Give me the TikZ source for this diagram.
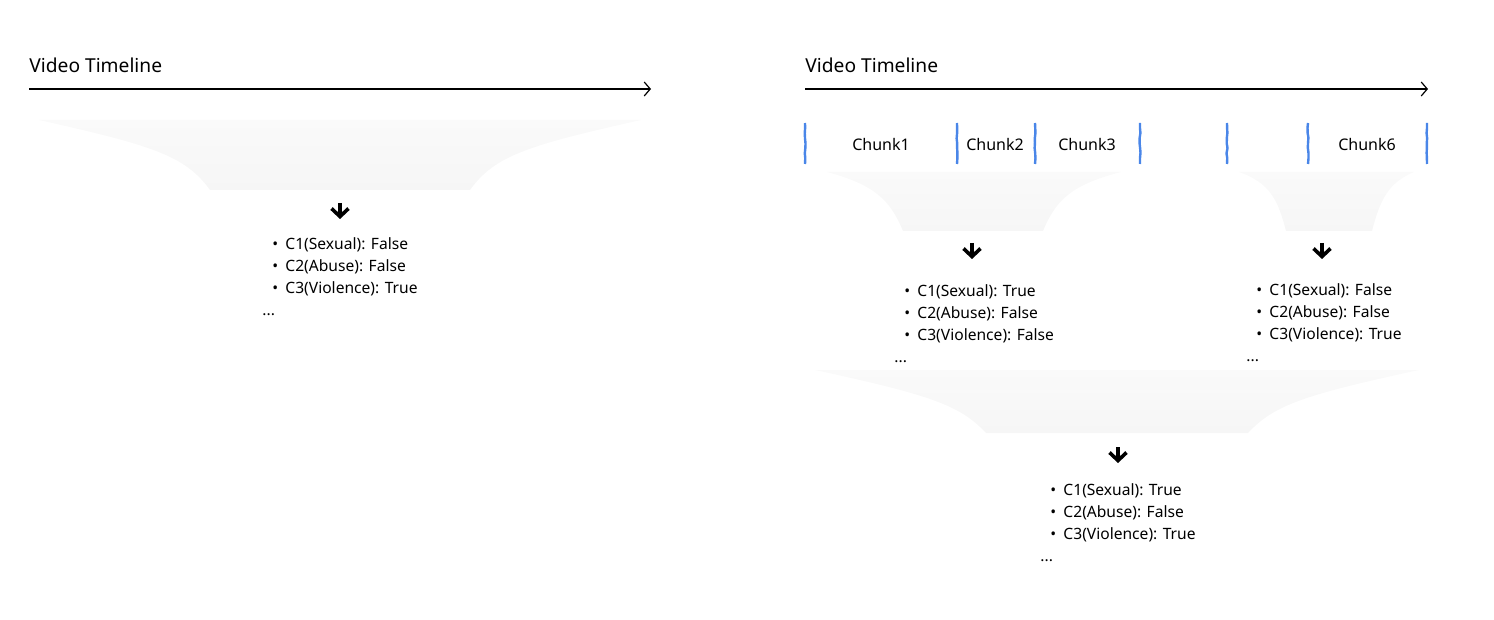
\documentclass[tikz,border=0pt]{standalone}
\usepackage{fontspec}
\setmainfont{Noto Sans}
\usetikzlibrary{arrows.meta,decorations.pathmorphing}
\definecolor{cutblue}{HTML}{4A86E8}
\tikzset{
  title/.style={anchor=west,inner sep=0pt,font=\fontsize{9.6}{11}\selectfont},   % timeline heading
  timeline/.style={-{Straight Barb[length=3pt,width=7pt]},line width=0.6pt},
  cut/.style={decorate,decoration={random steps,segment length=2.5pt,amplitude=0.25pt},cutblue,line width=1.2pt},% chunk border
  chunk/.style={inner sep=0pt,font=\fontsize{8}{10}\selectfont},
  funnel/.style={top color=gray!4,bottom color=gray!7,draw=none},
  down/.style={-{Straight Barb[length=4pt,width=8.5pt]},line width=1.8pt},
  items/.style={anchor=north west,align=left,inner sep=0pt,font=\fontsize{7.8}{11}\selectfont},
}
\newcommand{\pt}[1]{\hspace*{5pt}\textbullet\hspace{3.6pt}#1}

\begin{document}
\begin{tikzpicture}[x=0.5pt,y=-0.5pt]
  \useasboundingbox (0,0) rectangle (1494,620);
  \pgfmathsetseed{7}
  % whole video
  \node[title] (ltitle) at (29,65) {Video Timeline};
  \coordinate (lt0) at (29,89); \coordinate (lt1) at (651,89);
  \draw[timeline] (lt0) -- (lt1);
  \shade[funnel] (39,120) .. controls (150,145) and (185,155) .. (210,190) -- (470,190)
    .. controls (495,155) and (530,145) .. (641,120) -- cycle;
  \coordinate (la0) at (340,203); \coordinate (la1) at (340,219);
  \draw[down] (la0) -- (la1);
  \node[items] (lres) at (262,237.5) {\pt{C1(Sexual): False}\\ \pt{C2(Abuse): False}\\ \pt{C3(Violence): True}\\ ...};

  % chunked video
  \node[title] (rtitle) at (805,65) {Video Timeline};
  \coordinate (rt0) at (805,89); \coordinate (rt1) at (1428,89);
  \draw[timeline] (rt0) -- (rt1);
  \foreach \x in {805,957,1035,1140,1227,1308,1427}
    \draw[cut] (\x,123) -- (\x,164);
  \node[chunk] (c1) at (881,145) {Chunk1};
  \node[chunk] (c2) at (995,145) {Chunk2};
  \node[chunk] (c3) at (1087,145) {Chunk3};
  \node[chunk] (c6) at (1367,145) {Chunk6};
  \shade[funnel] (827,172) .. controls (875,185) and (890,200) .. (903,231) -- (1043,231)
    .. controls (1056,200) and (1071,185) .. (1121,172) -- cycle;
  \shade[funnel] (1239,172) .. controls (1270,183) and (1278,200) .. (1286,231) -- (1372,231)
    .. controls (1380,200) and (1388,183) .. (1414,172) -- cycle;
  \coordinate (a0) at (972,243); \coordinate (a1) at (972,259);
  \coordinate (b0) at (1322,243); \coordinate (b1) at (1322,259);
  \draw[down] (a0) -- (a1);
  \draw[down] (b0) -- (b1);
  \node[items] (ares) at (894,284) {\pt{C1(Sexual): True}\\ \pt{C2(Abuse): False}\\ \pt{C3(Violence): False}\\ ...};
  \node[items] (bres) at (1246,283) {\pt{C1(Sexual): False}\\ \pt{C2(Abuse): False}\\ \pt{C3(Violence): True}\\ ...};

  % merge of chunk results
  \shade[funnel] (815,370) .. controls (930,395) and (960,405) .. (986,433) -- (1248,433)
    .. controls (1274,405) and (1304,395) .. (1419,370) -- cycle;
  \coordinate (m0) at (1118,447); \coordinate (m1) at (1118,463);
  \draw[down] (m0) -- (m1);
  \node[items] (mres) at (1040,483) {\pt{C1(Sexual): True}\\ \pt{C2(Abuse): False}\\ \pt{C3(Violence): True}\\ ...};
\end{tikzpicture}
\end{document}
